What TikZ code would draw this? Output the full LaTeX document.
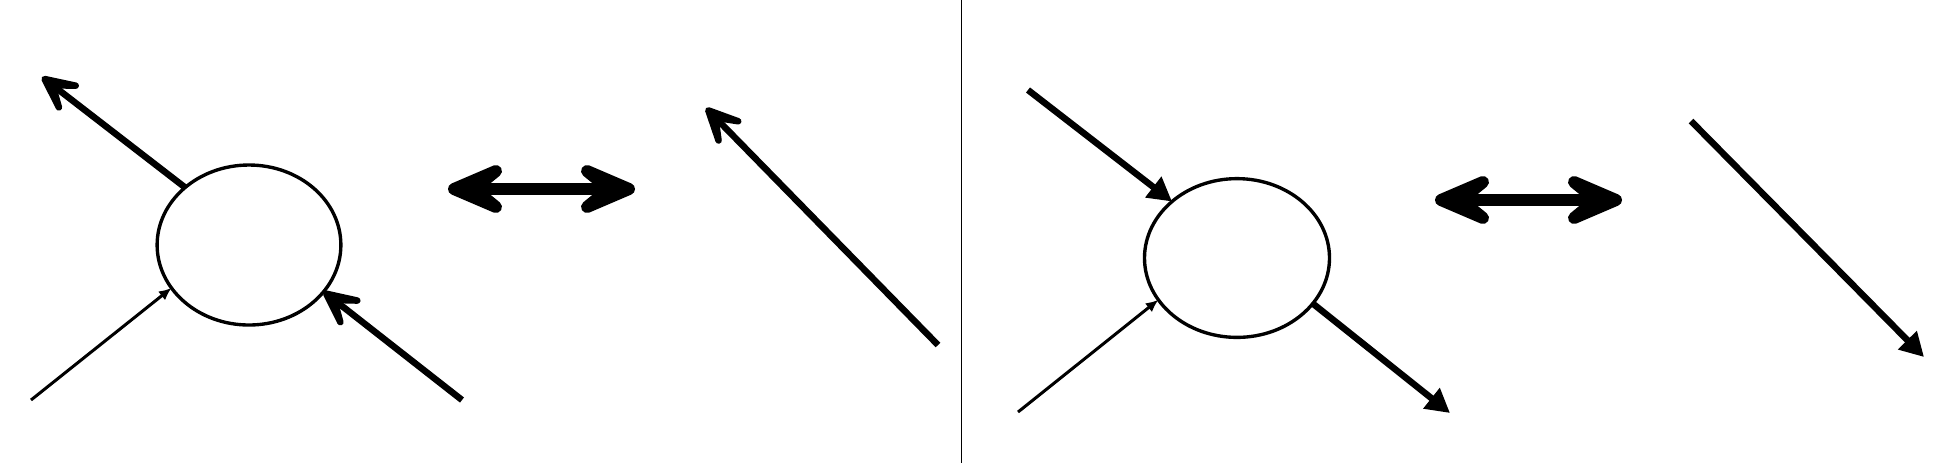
\documentclass[tikz,border=0pt]{standalone}
\usetikzlibrary{arrows.meta,shapes.geometric,calc}
% round-barbed arrow head: from, tip, offset, length, half width, notch, line width
\newcommand{\myhead}[7]{%
  \path let \p1=($(#2)-(#1)$), \n1={atan2(\y1,\x1)} in \pgfextra{\xdef\hdang{\n1}};
  \filldraw[line width=#7,line join=round,line cap=round,shift={(#2)},rotate=\hdang]
    (-#3,0pt) -- (-#3-#4,#5) -- (-#3-#6,0pt) -- (-#3-#4,-#5) -- cycle;}
\newcommand{\hvhead}[2]{\myhead{#1}{#2}{1.3pt}{11.5pt}{5.5pt}{4.1pt}{2.6pt}}
\newcommand{\dbhead}[2]{\myhead{#1}{#2}{2.4pt}{16.8pt}{7.2pt}{8pt}{4.8pt}}
\begin{document}
\begin{tikzpicture}[x=0.4pt,y=-0.4pt,
  ell/.style={ellipse,draw,line width=1.35pt,inner sep=0pt,outer sep=0pt},
  heavyline/.style={line width=2.6pt,shorten >=3pt},
  triarr/.style={line width=2.6pt,-{Triangle[length=9.5pt,width=10pt]}},
  lightarr/.style={line width=1.2pt,-{Latex[length=5pt,width=4.5pt]}},
  dblline/.style={line width=4.8pt,shorten >=6pt,shorten <=6pt},
  divider/.style={line width=0.6pt}]
\useasboundingbox (0,0) rectangle (1953,463);
% left panel
\node[ell,minimum width=73.5pt,minimum height=64pt] (e1) at (249,245) {};
\coordinate (a1) at (42,77);
\coordinate (b1) at (31,400);
\coordinate (c1) at (462,400);
\coordinate (d1l) at (448,189);
\coordinate (d1r) at (635,189);
\coordinate (m1s) at (938,345);
\coordinate (m1t) at (706,108);
\draw[heavyline] (e1.138.7) -- (a1);
\hvhead{e1.138.7}{a1}
\draw[lightarr] (b1) -- (e1.209.7);
\draw[heavyline] (c1) -- (e1.-32);
\hvhead{c1}{e1.-32}
\draw[dblline] (d1l) -- (d1r);
\dbhead{d1r}{d1l}
\dbhead{d1l}{d1r}
\draw[heavyline] (m1s) -- (m1t);
\hvhead{m1s}{m1t}
% divider
\coordinate (v1) at (961.5,0);
\coordinate (v2) at (961.5,463);
\draw[divider] (v1) -- (v2);
% right panel
\node[ell,minimum width=74pt,minimum height=63.5pt] (e2) at (1237,258) {};
\coordinate (r1s) at (1028,90);
\coordinate (r2s) at (1018,412);
\coordinate (r3t) at (1450,413);
\coordinate (d2l) at (1435,200);
\coordinate (d2r) at (1622,200);
\coordinate (n1s) at (1691,121);
\coordinate (n1t) at (1924,357);
\draw[triarr] (r1s) -- (e2.139.4);
\draw[lightarr] (r2s) -- (e2.208.8);
\draw[triarr] (e2.-31) -- (r3t);
\draw[dblline] (d2l) -- (d2r);
\dbhead{d2r}{d2l}
\dbhead{d2l}{d2r}
\draw[triarr] (n1s) -- (n1t);
\end{tikzpicture}
\end{document}
